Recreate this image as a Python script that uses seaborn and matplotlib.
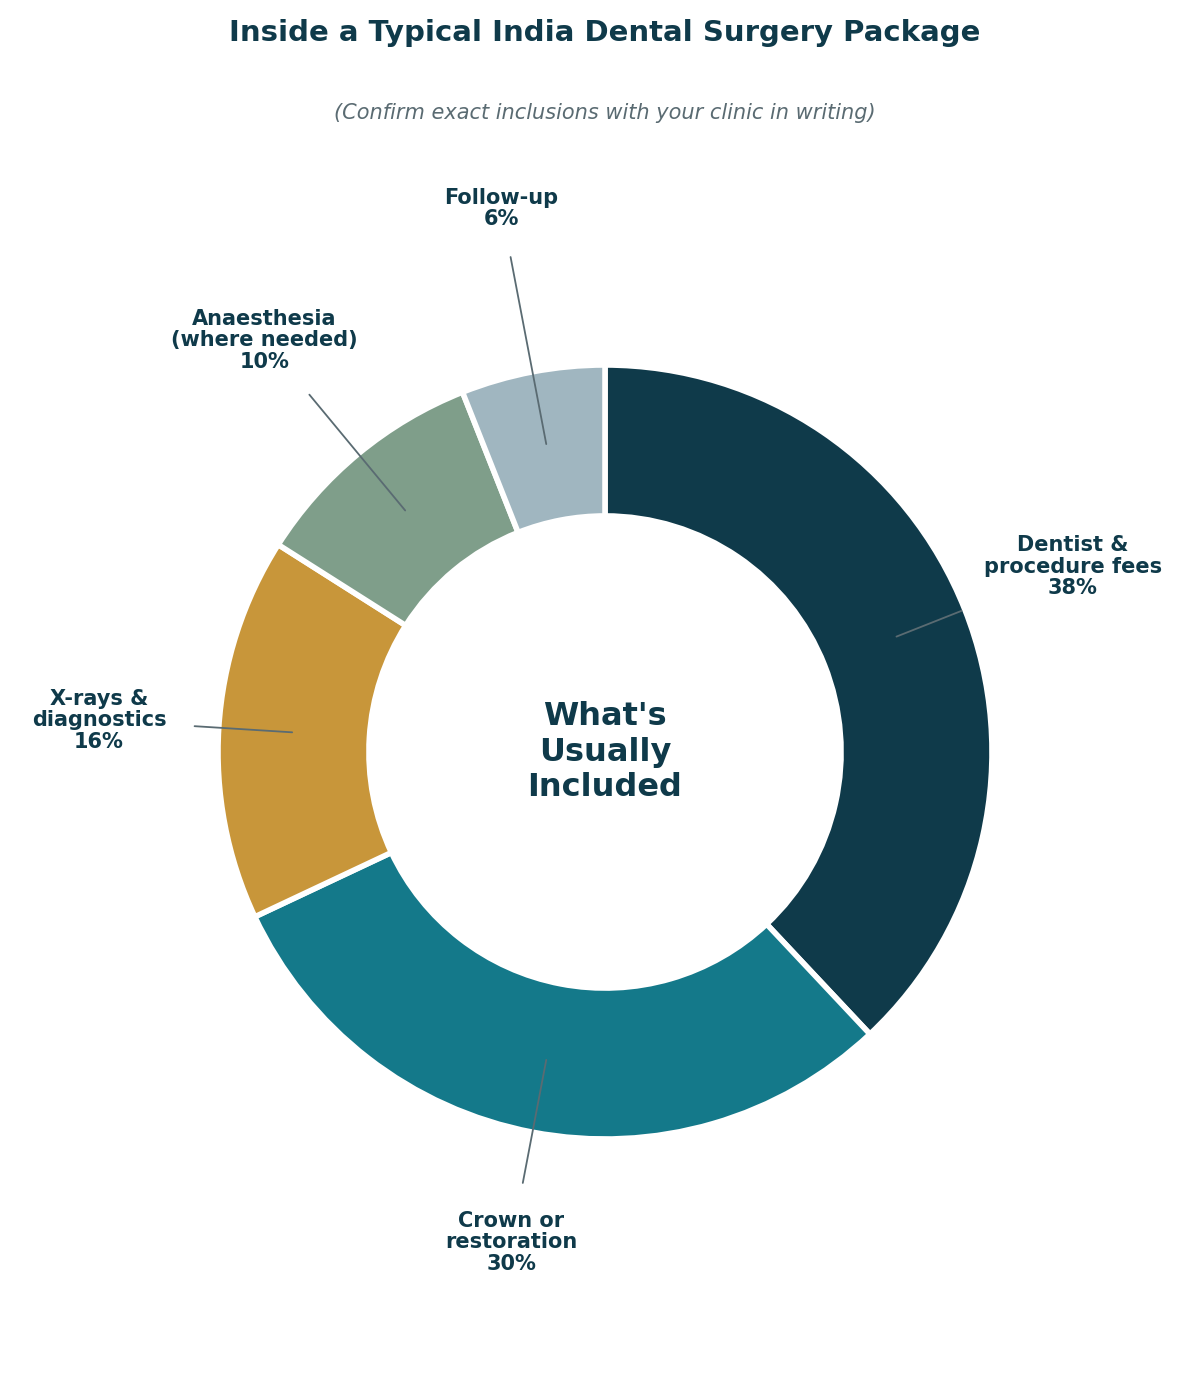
import numpy as np
import matplotlib
matplotlib.use('Agg')
import matplotlib.pyplot as plt
import seaborn as sns

sns.set_theme(style='white')
plt.rcParams['font.family'] = ['DejaVu Sans']

labels = ['Dentist &\nprocedure fees', 'Crown or\nrestoration', 'X-rays &\ndiagnostics',
          'Anaesthesia\n(where needed)', 'Follow-up']
values = [38, 30, 16, 10, 6]
colors = ['#0f3a4a', '#14798a', '#c8963a', '#7f9e8a', '#a0b6c0']
text_r = [1.30, 1.29, 1.31, 1.38, 1.43]

dark = '#0f3a4a'
fig = plt.figure(figsize=(12, 13.76), dpi=100)
ax = fig.add_axes([0, 0, 1, 1])

wedges, _ = ax.pie(values, colors=colors, startangle=90, counterclock=False, radius=1,
                   wedgeprops=dict(width=0.39, edgecolor='white', linewidth=4))
ax.set_aspect('auto')
ax.set_xlim(-605 / 387, 595 / 387)
ax.set_ylim(-624 / 387, 752 / 387)
ax.axis('off')

start = 90.0
for lab, v, tr in zip(labels, values, text_r):
    mid = np.deg2rad(start - v / 100 * 360 / 2)
    start -= v / 100 * 360
    p = (0.81 * np.cos(mid), 0.81 * np.sin(mid))
    t = (tr * np.cos(mid), tr * np.sin(mid))
    ax.annotate(f'{lab}\n{v}%', xy=p, xytext=t, ha='center', va='center',
                fontsize=15, fontweight='bold', color=dark, linespacing=1.1,
                arrowprops=dict(arrowstyle='-', color='#5a6b72', lw=1.3, shrinkA=18, shrinkB=0))

ax.text(0, 0, "What's\nUsually\nIncluded", ha='center', va='center', fontsize=23,
        fontweight='bold', color=dark, linespacing=1.2)

fig.text(0.504, 1 - 33 / 1376, 'Inside a Typical India Dental Surgery Package', ha='center',
         va='center', fontsize=21, fontweight='bold', color=dark)
fig.text(0.504, 1 - 113 / 1376, '(Confirm exact inclusions with your clinic in writing)',
         ha='center', va='center', fontsize=15, style='italic', color='#5a6b72')

fig.savefig('out.png', dpi=100)
